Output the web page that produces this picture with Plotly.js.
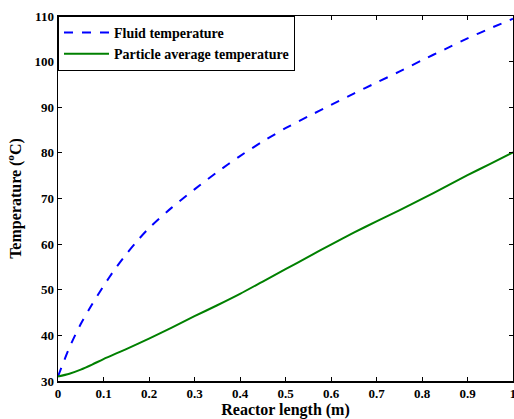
<!DOCTYPE html>
<html>
<head>
<meta charset="utf-8">
<script src="https://cdn.plot.ly/plotly-3.0.1.min.js"></script>
<style>html,body{margin:0;padding:0;background:#fff;}#chart{width:514px;height:419px;}</style>
</head>
<body>
<div id="chart"></div>
<script>
const xFluid = [0, 0.025, 0.05, 0.075, 0.1, 0.125, 0.15, 0.175, 0.2, 0.25, 0.3, 0.35, 0.4, 0.45, 0.5, 0.55, 0.6, 0.65, 0.7, 0.75, 0.8, 0.85, 0.9, 0.95, 1.0];
const fluidTemp = [31.0, 37.3, 42.5, 46.8, 50.8, 54.5, 57.8, 60.8, 63.5, 68.0, 72.0, 75.8, 79.3, 82.5, 85.4, 88.0, 90.5, 93.0, 95.4, 97.8, 100.3, 102.7, 105.1, 107.3, 109.4];
const xParticle = [0, 0.025, 0.05, 0.075, 0.1, 0.15, 0.2, 0.25, 0.3, 0.35, 0.4, 0.45, 0.5, 0.55, 0.6, 0.65, 0.7, 0.75, 0.8, 0.85, 0.9, 0.95, 1.0];
const particleTemp = [31.0, 31.6, 32.5, 33.6, 34.8, 37.0, 39.3, 41.7, 44.2, 46.6, 49.1, 51.8, 54.5, 57.2, 59.9, 62.5, 65.0, 67.4, 69.9, 72.5, 75.1, 77.6, 80.1];
const seriesNames = ["Fluid temperature", "Particle average temperature"];
const xTitle = "Reactor length (m)";
const yTitle = "Temperature (<sup>o</sup>C)";

const fontFam = "Times New Roman, Liberation Serif, DejaVu Serif, serif";
const traces = [
  {x: xFluid, y: fluidTemp, name: seriesNames[0], mode: "lines", line: {color: "#0000ff", width: 2, dash: "dash", shape: "spline", smoothing: 0.8}},
  {x: xParticle, y: particleTemp, name: seriesNames[1], mode: "lines", line: {color: "#008000", width: 2, shape: "spline", smoothing: 0.8}}
];
const layout = {
  width: 514, height: 419,
  margin: {l: 58, r: 1, t: 16, b: 38},
  paper_bgcolor: "#fff", plot_bgcolor: "#fff",
  font: {family: fontFam, color: "#000", size: 12, weight: "bold"},
  showlegend: true,
  legend: {x: 0, y: 1, xanchor: "left", yanchor: "top", bgcolor: "#fff", bordercolor: "#000", borderwidth: 1,
           itemwidth: 45,
           font: {family: fontFam, size: 14, weight: "bold", color: "#000"}, tracegroupgap: 0},
  xaxis: {range: [0, 1], tick0: 0, dtick: 0.1, ticks: "inside", ticklen: 4, tickcolor: "#000",
          showline: true, linecolor: "#000", linewidth: 1.5, mirror: "ticks", showgrid: false, zeroline: false,
          ticklabeloverflow: "allow",
          tickfont: {family: fontFam, size: 13, weight: "bold", color: "#000"},
          title: {text: xTitle, font: {family: fontFam, size: 16, weight: "bold", color: "#000"}, standoff: 4}},
  yaxis: {range: [30, 110], tick0: 30, dtick: 10, ticks: "inside", ticklen: 4, tickcolor: "#000",
          showline: true, linecolor: "#000", linewidth: 1.5, mirror: "ticks", showgrid: false, zeroline: false,
          tickfont: {family: fontFam, size: 13, weight: "bold", color: "#000"},
          title: {text: yTitle, font: {family: fontFam, size: 16, weight: "bold", color: "#000"}, standoff: 9}}
};
Plotly.newPlot("chart", traces, layout, {displayModeBar: false, staticPlot: true});
</script>
</body>
</html>
